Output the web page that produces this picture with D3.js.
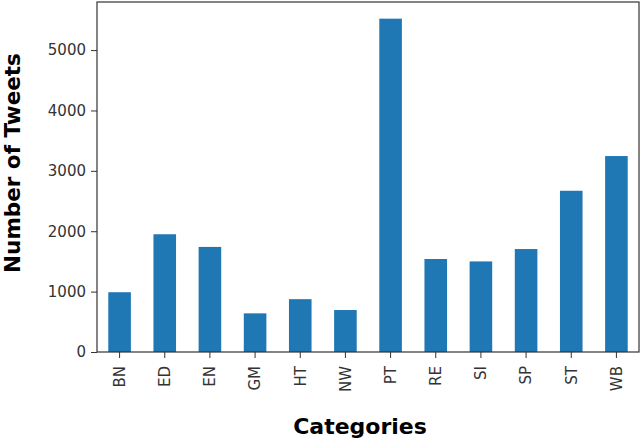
<!DOCTYPE html>
<html>
<head>
<meta charset="utf-8">
<script src="https://unpkg.com/d3@7.8.5/dist/d3.min.js"></script>
<style>
  body { margin: 0; background: #fff; }
  svg { display: block; }
</style>
</head>
<body>
<div id="chart"></div>
<script>
// data
let categories = ["BN", "ED", "EN", "GM", "HT", "NW", "PT", "RE", "SI", "SP", "ST", "WB"];
let tweets = [990, 1950, 1740, 640, 875, 695, 5520, 1540, 1500, 1705, 2670, 3245];
let yTicks = [0, 1000, 2000, 3000, 4000, 5000];

let width = 640;
let height = 442;
let marginLeft = 97;
let marginRight = 1;
let marginTop = 2;
let marginBottom = 90;

let svg = d3.select("#chart").append("svg")
    .attr("width", width)
    .attr("height", height);

let x = d3.scaleBand()
    .domain(categories)
    .range([marginLeft, width - marginRight])
    .paddingInner(0.5)
    .paddingOuter(0.25);

let y = d3.scaleLinear()
    .domain([0, d3.max(tweets) * 1.05])
    .range([height - marginBottom, marginTop]);

// bars
svg.append("g")
    .selectAll("rect")
    .data(tweets)
    .join("rect")
        .attr("x", (d, i) => x(categories[i]))
        .attr("y", d => y(d))
        .attr("width", x.bandwidth())
        .attr("height", d => y(0) - y(d))
        .attr("fill", "#1f77b4");

// y axis
let yAxis = svg.append("g")
    .attr("transform", `translate(${marginLeft},0)`)
    .call(d3.axisLeft(y).tickValues(yTicks).tickFormat(d3.format("d"))
        .tickSize(6).tickPadding(5).tickSizeOuter(0));
yAxis.select(".domain").remove();
yAxis.selectAll("line").attr("stroke", "#333");
yAxis.selectAll("text")
    .attr("font-family", "DejaVu Sans")
    .attr("font-size", 15)
    .attr("fill", "#333");

// x axis
let xAxis = svg.append("g")
    .attr("transform", `translate(0,${height - marginBottom})`)
    .call(d3.axisBottom(x).tickSize(6).tickSizeOuter(0));
xAxis.select(".domain").remove();
xAxis.selectAll("line").attr("stroke", "#333");
xAxis.selectAll("text")
    .attr("font-family", "DejaVu Sans")
    .attr("font-size", 15)
    .attr("fill", "#333")
    .attr("text-anchor", "end")
    .attr("dy", "0.35em")
    .attr("transform", "translate(0,14) rotate(-90)")
    .attr("x", 0)
    .attr("y", 0);

// frame
svg.append("rect")
    .attr("x", marginLeft)
    .attr("y", marginTop)
    .attr("width", width - marginRight - marginLeft)
    .attr("height", height - marginBottom - marginTop)
    .attr("fill", "none")
    .attr("stroke", "#333")
    .attr("stroke-width", 1.2);

// axis titles
svg.append("text")
    .attr("x", 360)
    .attr("y", 434)
    .attr("text-anchor", "middle")
    .attr("font-family", "DejaVu Sans")
    .attr("font-weight", "bold")
    .attr("font-size", 22)
    .attr("fill", "#000")
    .text("Categories");

svg.append("text")
    .attr("transform", "translate(20,163) rotate(-90)")
    .attr("text-anchor", "middle")
    .attr("font-family", "DejaVu Sans")
    .attr("font-weight", "bold")
    .attr("font-size", 21.5)
    .attr("fill", "#000")
    .text("Number of Tweets");
</script>
</body>
</html>
